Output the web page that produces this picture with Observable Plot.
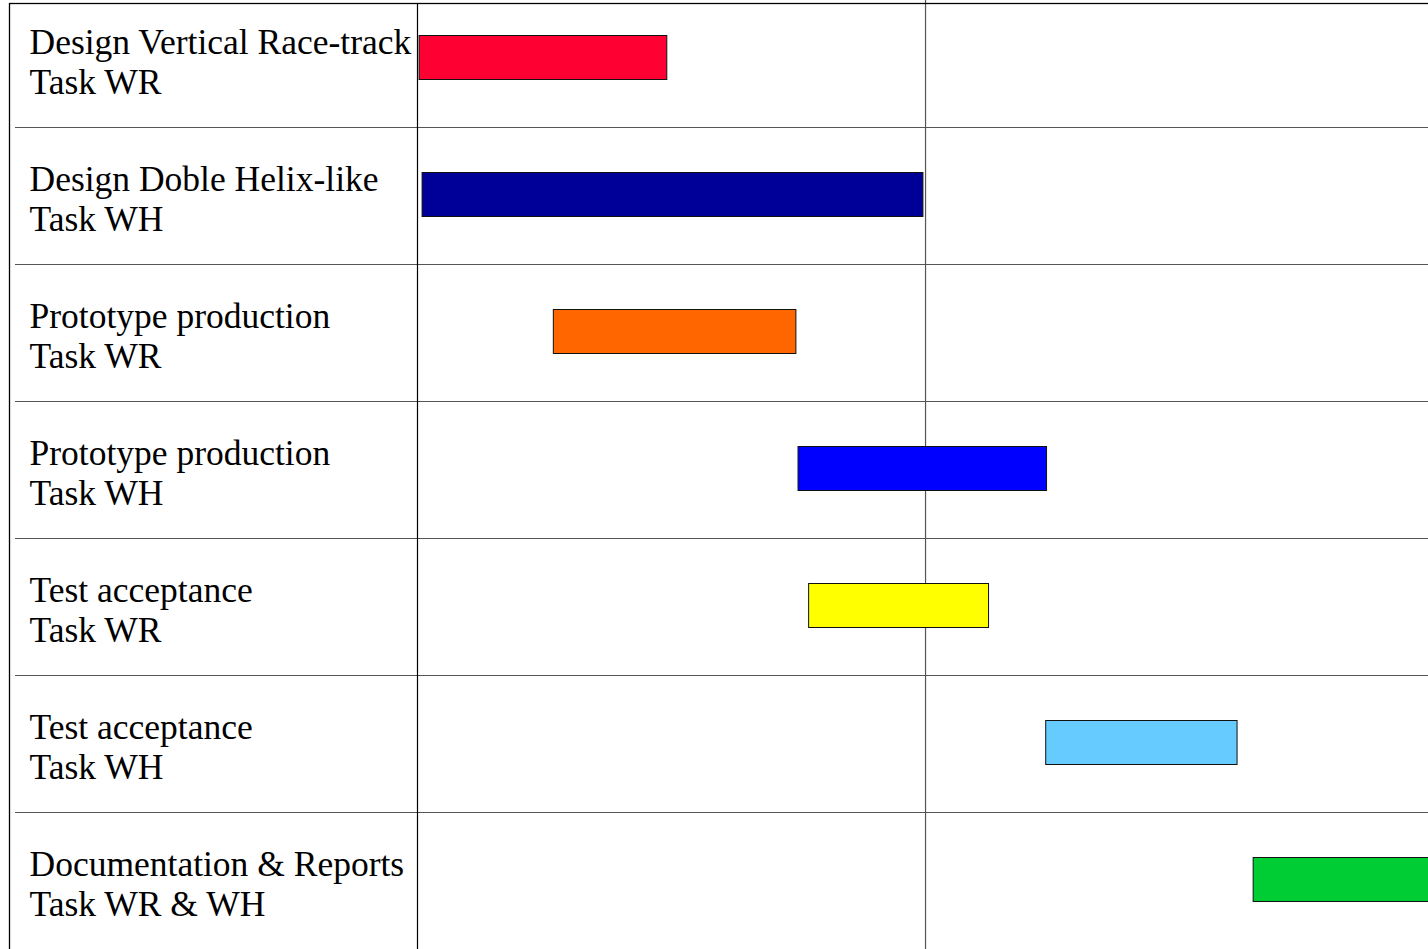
<!DOCTYPE html>
<html>
<head>
<meta charset="utf-8">
<script src="https://cdn.jsdelivr.net/npm/d3@7"></script>
<script src="https://cdn.jsdelivr.net/npm/@observablehq/plot@0.6"></script>
<style>
  html, body { margin: 0; padding: 0; background: #fff; overflow: hidden; }
  #chart svg { display: block; }
</style>
</head>
<body>
<div id="chart"></div>
<script>
// Task labels (two lines each)
const tasks = [
  "Design Vertical Race-track\nTask WR",
  "Design Doble Helix-like\nTask WH",
  "Prototype production\nTask WR",
  "Prototype production\nTask WH",
  "Test acceptance\nTask WR",
  "Test acceptance\nTask WH",
  "Documentation & Reports\nTask WR & WH"
];
// Start / end in months (12-month gridline)
const starts = [0.05, 0.12, 3.22, 9.0, 9.25, 14.85, 19.75];
const ends   = [5.9, 11.95, 8.95, 14.87, 13.5, 19.37, 24];
const colors = ["#FF0033", "#000099", "#FF6600", "#0000FF", "#FFFF00", "#66CCFF", "#00CC33"];
const gridMonths = [12];
const timeDomain = [0, 23.88];

const data = tasks.map((t, i) => ({task: t, start: starts[i], end: ends[i], color: colors[i]}));

const W = 1428, H = 949, mt = 3, mb = 0, ml = 417, mr = 0;
const yRange = [-10, H];
const band = (yRange[1] - yRange[0]) / tasks.length;

const chart = Plot.plot({
  width: W, height: H,
  marginTop: mt, marginBottom: mb, marginLeft: ml, marginRight: mr,
  style: {background: "white", overflow: "hidden"},
  x: {domain: timeDomain, axis: null},
  y: {type: "band", domain: tasks, range: yRange, padding: 0, axis: null},
  marks: [
    // row separators
    Plot.ruleY(tasks.slice(1), {y: d => d, dy: -band / 2, insetLeft: -402, stroke: "#555", strokeWidth: 1.2}),
    // 12-month gridline
    Plot.ruleX(gridMonths, {x: d => d, stroke: "#555", strokeWidth: 1.2, insetTop: -3}),
    // bars
    Plot.barX(data, {
      y: "task", x1: "start", x2: "end", fill: "color",
      stroke: "#111", strokeWidth: 1,
      insetTop: 45.5, insetBottom: 47.5
    }),
    // label column divider
    Plot.ruleX([timeDomain[0]], {stroke: "#000", strokeWidth: 1.2}),
    // outer border (top + left)
    Plot.frame({insetLeft: -408, insetRight: -3, insetBottom: -3, stroke: "#000", strokeWidth: 1.3}),
    // labels
    Plot.text(tasks, {
      y: d => d, text: d => d,
      frameAnchor: "left", dx: -388, dy: 2.5,
      textAnchor: "start", lineAnchor: "middle", lineHeight: 1.13,
      fontSize: 35.5, fontFamily: "Liberation Serif", fill: "#000"
    })
  ]
});
chart.querySelectorAll("text").forEach(t => t.setAttribute("font-family", "Liberation Serif"));
document.getElementById("chart").append(chart);
</script>
</body>
</html>
